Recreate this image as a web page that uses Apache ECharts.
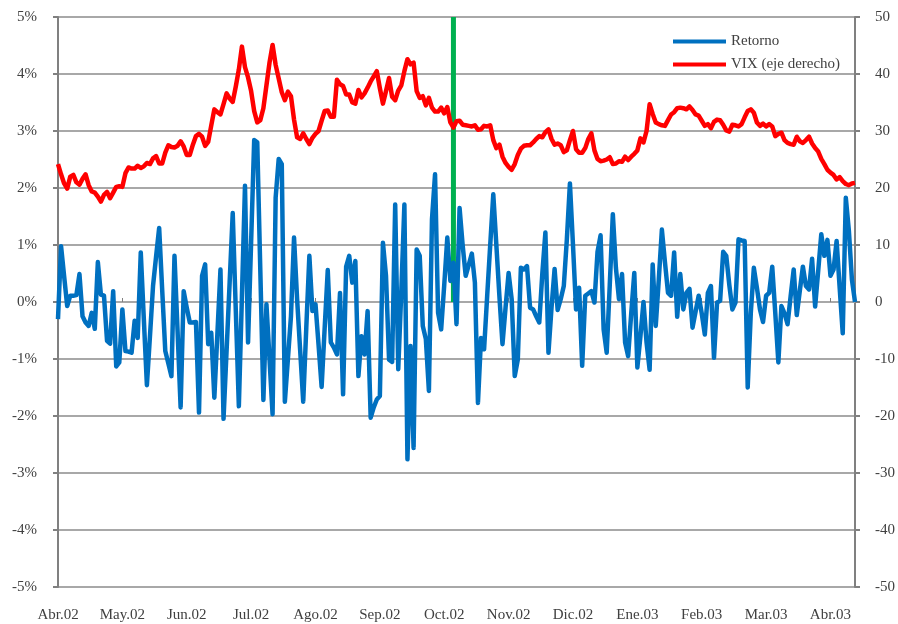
<!DOCTYPE html>
<html><head><meta charset="utf-8">
<script src="https://cdn.jsdelivr.net/npm/echarts@6/dist/echarts.min.js"></script>
<style>html,body{margin:0;padding:0;background:#fff}#c{width:898px;height:624px}</style>
</head><body><div id="c"></div>
<script>
const monthLabels = ['Abr.02','May.02','Jun.02','Jul.02','Ago.02','Sep.02','Oct.02','Nov.02','Dic.02','Ene.03','Feb.03','Mar.03','Abr.03'];
const daysPerLabel = 21;

// Retorno diario (%)
const retorno = [
-0.30,0.98,0.45,-0.07,0.11,0.11,0.12,0.49,-0.25,-0.36,
-0.42,-0.19,-0.47,0.70,0.13,0.11,-0.68,-0.73,0.19,-1.13,
-1.06,-0.13,-0.86,-0.87,-0.89,-0.33,-0.63,0.87,-0.30,-1.46,
-0.60,0.28,0.80,1.30,0.20,-0.86,-1.08,-1.30,0.81,-0.50,
-1.85,0.19,-0.10,-0.36,-0.36,-0.35,-1.94,0.46,0.66,-0.74,
-0.54,-1.68,-0.55,0.57,-2.05,-0.85,0.35,1.56,-0.15,-1.83,
0.10,2.04,-0.71,1.05,2.84,2.80,0.55,-1.72,-0.04,-1.00,
-1.97,1.83,2.51,2.42,-1.75,-1.00,-0.25,1.13,0.05,-0.85,
-1.75,-0.45,0.81,-0.16,-0.04,-0.75,-1.49,-0.45,0.56,-0.71,
-0.80,-0.92,0.16,-1.62,0.62,0.81,0.34,0.72,-1.30,-0.60,
-0.92,-0.16,-2.03,-1.85,-1.71,-1.65,1.04,0.46,-1.01,-1.05,
1.71,-1.18,0.20,1.71,-2.76,-0.77,-2.56,0.92,0.81,-0.42,
-0.65,-1.56,1.45,2.24,-0.19,-0.48,0.30,1.13,0.37,0.69,
-0.39,1.65,1.00,0.46,0.65,0.85,0.34,-1.77,-0.63,-0.83,
0.10,1.00,1.89,1.00,0.10,-0.74,-0.10,0.51,0.05,-1.30,
-1.01,0.60,0.57,0.63,-0.10,-0.13,-0.25,-0.36,0.50,1.22,
-0.89,-0.10,0.58,-0.14,0.05,0.28,1.10,2.08,1.00,-0.13,
0.25,-1.12,0.11,0.15,0.19,-0.01,0.88,1.17,-0.48,-0.89,
0.30,1.54,0.60,0.05,0.49,-0.71,-0.95,-0.20,0.51,-1.15,
-0.60,0.00,-0.71,-1.19,0.66,-0.42,0.40,1.27,0.70,0.16,
0.11,0.87,-0.26,0.49,-0.13,0.16,0.23,-0.45,-0.17,0.11,
-0.20,-0.57,0.16,0.28,-0.98,-0.01,0.02,0.88,0.81,0.30,
-0.13,-0.01,1.10,1.08,1.07,-1.50,-0.20,0.60,0.25,-0.13,
-0.35,0.11,0.16,0.62,-0.20,-1.06,-0.07,-0.20,-0.39,0.10,
0.57,-0.23,0.20,0.62,0.28,0.22,0.76,-0.08,0.55,1.19,
0.81,1.09,0.46,0.57,1.07,0.25,-0.55,1.83,1.25,0.39,
0.00
];

// VIX (eje derecho)
const vix = [
24.2,22.4,20.8,19.9,22.0,22.3,21.0,20.6,21.6,22.4,
20.5,19.4,19.2,18.5,17.6,18.8,19.3,18.2,19.2,20.2,
20.3,20.2,22.6,23.6,23.4,23.4,23.9,23.5,23.8,24.4,
24.2,25.2,25.6,24.3,24.3,26.2,27.5,27.2,27.1,27.4,
28.2,27.3,25.8,25.8,27.6,29.1,29.5,29.0,27.4,28.1,
31.0,33.8,33.3,32.9,34.7,36.6,35.7,35.1,37.8,40.8,
44.8,41.2,39.4,37.0,33.5,31.5,31.9,34.0,38.0,42.0,
45.1,41.6,39.2,36.8,35.4,36.9,36.1,32.0,28.9,28.6,
29.6,28.6,27.7,28.8,29.5,30.0,31.8,33.5,33.6,32.5,
32.5,39.0,38.2,37.9,36.4,36.4,35.0,34.8,37.2,35.9,
36.6,37.6,38.7,39.6,40.5,37.5,34.8,37.0,39.3,36.0,
35.4,37.1,38.0,40.5,42.6,41.7,42.0,37.0,35.8,36.1,
34.5,35.8,34.1,33.4,33.4,34.1,33.1,34.2,31.5,30.6,
31.7,31.8,31.1,31.0,30.9,30.8,31.0,30.2,30.3,30.9,
30.8,31.0,28.4,27.0,27.6,25.5,24.4,23.7,23.2,24.2,
25.8,26.9,27.4,27.5,27.5,28.0,28.6,29.1,28.9,29.8,
30.3,28.6,27.6,27.8,27.5,26.3,26.6,28.4,30.0,26.8,
26.2,26.2,27.0,28.6,29.6,26.6,25.1,24.7,24.8,25.0,
25.4,24.2,24.3,24.7,24.6,25.5,24.9,25.5,26.0,26.6,
28.7,28.0,30.0,34.7,33.0,31.5,31.2,31.0,30.9,31.9,
32.9,33.3,34.0,34.1,34.0,33.8,34.3,33.7,32.9,32.7,
31.8,30.9,31.2,30.5,31.6,32.0,31.9,31.1,30.1,29.9,
31.1,31.0,30.8,31.2,32.4,33.5,33.8,33.2,31.5,30.9,
31.3,30.8,31.2,30.8,29.1,29.5,29.7,28.4,27.9,27.7,
27.6,29.0,28.2,27.9,28.4,29.0,27.8,27.0,26.4,25.1,
24.2,23.2,22.7,22.3,21.5,21.9,21.2,20.7,20.5,20.8,
20.9
];

// Marca vertical (día del evento)
const markerIndex = 129;
const markerValue = 5;

const days = retorno.map((_, i) => String(i));
const markerData = days.map((_, i) => (i === markerIndex ? markerValue : null));

const FONT = 'Liberation Serif';
const TXT = '#404040';
const chart = echarts.init(document.getElementById('c'), null, {renderer: 'canvas'});
chart.setOption({
  animation: false,
  backgroundColor: '#ffffff',
  grid: {left: 58, right: 43, top: 17, bottom: 37, containLabel: false},
  legend: {
    data: ['Retorno', 'VIX (eje derecho)'],
    orient: 'vertical', left: 673, top: 34, padding: 0,
    icon: 'rect', itemWidth: 53, itemHeight: 4, itemGap: 8,
    textStyle: {fontFamily: FONT, fontSize: 15, color: TXT}
  },
  xAxis: [{
    type: 'category', data: days, boundaryGap: false,
    axisLine: {show: false},
    axisTick: {show: false},
    splitLine: {show: false},
    axisLabel: {
      interval: daysPerLabel - 1, margin: 21,
      fontFamily: FONT, fontSize: 15, color: TXT,
      formatter: (v, idx) => monthLabels[idx / daysPerLabel] || ''
    }
  }, {
    type: 'category', data: days, boundaryGap: false,
    axisLine: {show: true, onZero: true, lineStyle: {color: '#a8a8a8', width: 2}},
    axisTick: {show: true, interval: daysPerLabel - 1, length: 4, lineStyle: {color: '#808080', width: 1}},
    axisLabel: {show: false},
    splitLine: {show: false}
  }],
  yAxis: [{
    type: 'value', min: -5, max: 5, interval: 1, position: 'left',
    axisLine: {show: true, lineStyle: {color: '#808080', width: 2}},
    axisTick: {show: true, length: 5, lineStyle: {color: '#808080', width: 2}},
    splitLine: {show: true, lineStyle: {color: '#a8a8a8', width: 2}},
    axisLabel: {margin: 21, fontFamily: FONT, fontSize: 15, color: TXT, formatter: v => v + '%'}
  }, {
    type: 'value', min: -50, max: 50, interval: 10, position: 'right',
    axisLine: {show: true, lineStyle: {color: '#808080', width: 2}},
    axisTick: {show: true, length: 5, lineStyle: {color: '#808080', width: 2}},
    splitLine: {show: false},
    axisLabel: {margin: 20, fontFamily: FONT, fontSize: 15, color: TXT}
  }],
  series: [{
    name: 'Evento', type: 'bar', xAxisIndex: 0, yAxisIndex: 0,
    data: markerData, barWidth: 5, z: 1,
    itemStyle: {color: '#00B050'}, silent: true
  }, {
    name: 'Retorno', type: 'line', xAxisIndex: 0, yAxisIndex: 0,
    data: retorno, showSymbol: false, symbol: 'none', z: 3,
    lineStyle: {color: '#0070C0', width: 4.5, join: 'round'},
    itemStyle: {color: '#0070C0'}
  }, {
    name: 'VIX (eje derecho)', type: 'line', xAxisIndex: 0, yAxisIndex: 1,
    data: vix, showSymbol: false, symbol: 'none', z: 4,
    lineStyle: {color: '#FF0000', width: 4.5, join: 'round'},
    itemStyle: {color: '#FF0000'}
  }]
});
</script>
</body></html>
